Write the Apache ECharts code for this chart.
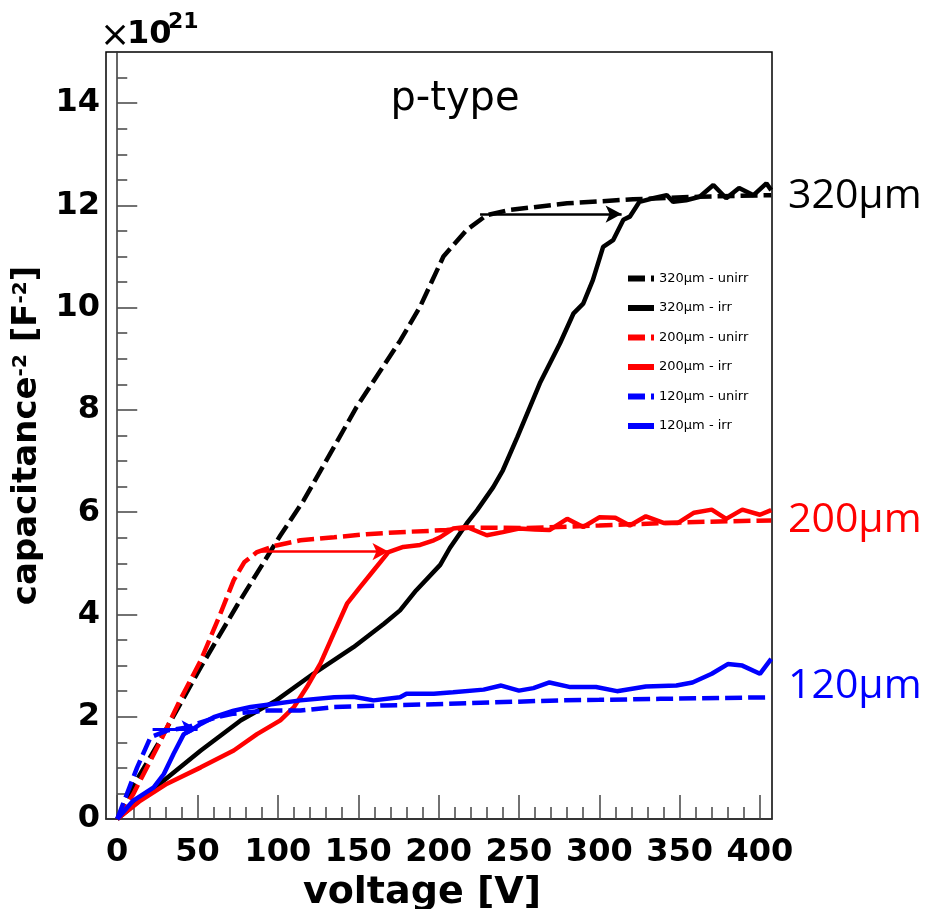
<!DOCTYPE html>
<html><head><meta charset="utf-8">
<script src="https://cdn.jsdelivr.net/npm/echarts@6/dist/echarts.min.js"></script>
<style>html,body{margin:0;padding:0;background:#fff}#c{width:929px;height:909px}</style>
</head><body><div id="c"></div><script>
// ---- data (voltage [V], capacitance^-2 [x1e21 F^-2]) ----
const unirr320 = [[0,0],[10,0.65],[25,1.45],[52,2.97],[75,4.2],[101.6,5.55],[116,6.23],[149,8.06],[176,9.35],[188.5,10.02],[203,11.0],[217.5,11.52],[230,11.81],[244,11.91],[280,12.04],[321,12.12],[362,12.17],[407,12.2]];
const irr320 = [[0,0],[25,0.65],[52,1.34],[77,1.93],[99,2.32],[122,2.84],[147,3.36],[166,3.82],[176,4.08],[186,4.47],[201,4.97],[207,5.3],[217.5,5.78],[224,6.04],[234,6.49],[240,6.82],[249,7.47],[263,8.52],[275.5,9.3],[284,9.89],[290,10.08],[296,10.54],[302.4,11.19],[308.6,11.32],[315,11.72],[319,11.78],[325,12.07],[333.5,12.14],[342,12.2],[346,12.07],[354,12.1],[362.5,12.17],[371,12.4],[379,12.14],[387,12.34],[396,12.2],[404,12.43],[407,12.3]];
const unirr200 = [[0,0],[10,0.49],[27,1.53],[39,2.32],[52,3.1],[64,4.0],[72.5,4.67],[79,5.02],[87,5.22],[99,5.35],[114,5.45],[135,5.51],[155,5.57],[176,5.61],[205,5.65],[220,5.7],[255,5.69],[300,5.74],[350,5.8],[407,5.84]];
const irr200 = [[0,0],[14.5,0.36],[31,0.69],[52,1.01],[72.5,1.34],[87,1.66],[101.5,1.93],[110,2.19],[118,2.58],[126.4,3.04],[134.6,3.62],[143,4.21],[151,4.53],[159.5,4.86],[168.8,5.22],[178,5.32],[188.5,5.36],[197,5.45],[201,5.51],[209,5.68],[217.5,5.71],[230,5.55],[240,5.61],[250,5.68],[260,5.66],[269,5.65],[280,5.87],[290,5.71],[300,5.9],[310,5.89],[319,5.74],[329,5.92],[340,5.79],[349,5.79],[359,5.99],[370,6.05],[379,5.87],[389,6.05],[400,5.95],[407,6.04]];
const unirr120 = [[0,0],[6,0.49],[12.4,1.01],[20.7,1.6],[31,1.73],[43.5,1.79],[52,1.89],[62,1.99],[72.5,2.06],[93,2.12],[114,2.12],[135,2.19],[166,2.22],[205,2.25],[234,2.28],[275,2.32],[300,2.33],[338,2.35],[407,2.38]];
const irr120 = [[0,0],[10,0.36],[22.7,0.62],[29,0.88],[35,1.27],[41.4,1.66],[45.6,1.73],[52,1.86],[60,1.99],[72.5,2.12],[83,2.19],[97,2.25],[114,2.32],[135,2.38],[147,2.39],[159.5,2.32],[176,2.38],[180,2.45],[197,2.45],[209,2.48],[228,2.53],[239,2.61],[250,2.51],[259,2.56],[269,2.67],[282,2.58],[288,2.58],[298,2.58],[311,2.5],[329,2.59],[348,2.61],[358,2.67],[370,2.84],[380,3.03],[389,3.0],[400,2.84],[407,3.13]];
// arrows: [startV, endV, level]
const arrow320 = [225.8, 313.9, 11.83];
const arrow200 = [86.5, 168.8, 5.23];
const arrow120 = [22, 50, 1.76];

const seriesNames = ['320µm - unirr','320µm - irr','200µm - unirr','200µm - irr','120µm - unirr','120µm - irr'];
const thicknessLabels = ['320µm','200µm','120µm'];
const xMajor = [0,50,100,150,200,250,300,350,400];
const xMinor = [10,20,30,40,60,70,80,90,110,120,130,140,160,170,180,190,210,220,230,240,260,270,280,290,310,320,330,340,360,370,380,390];
const yMajor = [0,2,4,6,8,10,12,14];
const yMinor = [0.5,1,1.5,2.5,3,3.5,4.5,5,5.5,6.5,7,7.5,8.5,9,9.5,10.5,11,11.5,12.5,13,13.5,14.5];

const X_MIN = -7, X_MAX = 407.5, Y_MIN = 0, Y_MAX = 15;
const BLACK = '#000000', RED = '#ff0000', BLUE = '#0000ff';
const DASH = [17, 6];

function arrowLine(a, color, w) {
  return {
    silent: true,
    symbol: ['none', 'arrow'],
    symbolSize: [13, 16],
    label: { show: false },
    lineStyle: { type: 'solid', width: w, color: color },
    data: [[{ coord: [a[0], a[2]] }, { coord: [a[1], a[2]] }]]
  };
}

function mkSeries(name, data, color, dashed, arrow, aw) {
  const s = {
    name: name, type: 'line', data: data, showSymbol: false, symbol: 'none',
    xAxisIndex: 0, yAxisIndex: 0,
    lineStyle: { color: color, width: 4.5, type: dashed ? DASH : 'solid' },
    itemStyle: { color: color }, z: 3
  };
  if (arrow) s.markLine = arrowLine(arrow, color, aw);
  return s;
}

const tickFont = { fontFamily: 'DejaVu Sans', fontWeight: 'bold', fontSize: 32, color: '#000' };

const chart = echarts.init(document.getElementById('c'), null, { renderer: 'canvas' });
chart.setOption({
  animation: false,
  backgroundColor: '#fff',
  grid: { left: 106, right: 157, top: 52, bottom: 90, show: true, borderColor: '#000', borderWidth: 1.5,
          containLabel: false, outerBoundsMode: 'none' },
  legend: {
    orient: 'vertical', left: 620, top: 267, itemWidth: 26, itemHeight: 14, itemGap: 16.5,
    data: seriesNames,
    lineStyle: { width: 6 },
    itemStyle: { opacity: 0 },
    textStyle: { fontFamily: 'DejaVu Sans', fontSize: 13, color: '#000' }
  },
  xAxis: [
    { type: 'value', min: X_MIN, max: X_MAX, position: 'bottom',
      name: 'voltage [V]', nameLocation: 'middle', nameGap: 50,
      nameTextStyle: { fontFamily: 'DejaVu Sans', fontWeight: 'bold', fontSize: 38, color: '#000', padding: [0, 34, 0, 0] },
      axisLine: { show: true, lineStyle: { color: '#333', width: 1.5 } },
      axisTick: { show: true, inside: true, length: 24, customValues: xMajor, lineStyle: { color: '#444', width: 1.5 } },
      axisLabel: Object.assign({ customValues: xMajor, margin: 18 }, tickFont),
      splitLine: { show: false } },
    { type: 'value', min: X_MIN, max: X_MAX, position: 'bottom',
      axisLine: { show: false },
      axisTick: { show: true, inside: true, length: 12, customValues: xMinor, lineStyle: { color: '#444', width: 1.5 } },
      axisLabel: { show: false }, splitLine: { show: false } }
  ],
  yAxis: [
    { type: 'value', min: Y_MIN, max: Y_MAX, position: 'left',
      name: 'capacitance{s|-2} [F{s|-2}]', nameLocation: 'middle', nameGap: 44,
      nameTextStyle: { fontFamily: 'DejaVu Sans', fontWeight: 'bold', fontSize: 34, color: '#000',
        rich: { s: { fontFamily: 'DejaVu Sans', fontWeight: 'bold', fontSize: 20, color: '#000', verticalAlign: 'top' } } },
      axisLine: { show: true, lineStyle: { color: '#333', width: 1.5 } },
      axisTick: { show: true, inside: true, length: 20, customValues: yMajor, lineStyle: { color: '#444', width: 1.5 } },
      axisLabel: Object.assign({ customValues: yMajor, margin: 6 }, tickFont),
      splitLine: { show: false } },
    { type: 'value', min: Y_MIN, max: Y_MAX, position: 'left',
      axisLine: { show: false },
      axisTick: { show: true, inside: true, length: 10, customValues: yMinor, lineStyle: { color: '#444', width: 1.5 } },
      axisLabel: { show: false }, splitLine: { show: false } }
  ],
  graphic: [
    { type: 'text', x: 100, y: 37, style: { text: '×', font: '36px DejaVu Sans', fill: '#000', textVerticalAlign: 'middle' } },
    { type: 'text', x: 127, y: 35, style: { text: '10', font: 'bold 32px DejaVu Sans', fill: '#000', textVerticalAlign: 'middle' } },
    { type: 'text', x: 168, y: 22, style: { text: '21', font: 'bold 22px DejaVu Sans', fill: '#000', textVerticalAlign: 'middle' } },
    { type: 'text', x: 455, y: 100, style: { text: 'p-type', font: '40px DejaVu Sans', fill: '#000', textAlign: 'center', textVerticalAlign: 'middle' } },
    { type: 'text', x: 788, y: 196, style: { text: thicknessLabels[0], font: '41px "Open Sans"', fill: BLACK, textVerticalAlign: 'middle' } },
    { type: 'text', x: 788, y: 520, style: { text: thicknessLabels[1], font: '41px "Open Sans"', fill: RED, textVerticalAlign: 'middle' } },
    { type: 'text', x: 788, y: 686, style: { text: thicknessLabels[2], font: '41px "Open Sans"', fill: BLUE, textVerticalAlign: 'middle' } }
  ],
  series: [
    mkSeries(seriesNames[0], unirr320, BLACK, true, arrow320, 2.5),
    mkSeries(seriesNames[1], irr320, BLACK, false),
    mkSeries(seriesNames[2], unirr200, RED, true, arrow200, 2.5),
    mkSeries(seriesNames[3], irr200, RED, false),
    mkSeries(seriesNames[4], unirr120, BLUE, true, arrow120, 3),
    mkSeries(seriesNames[5], irr120, BLUE, false)
  ]
});
</script></body></html>
